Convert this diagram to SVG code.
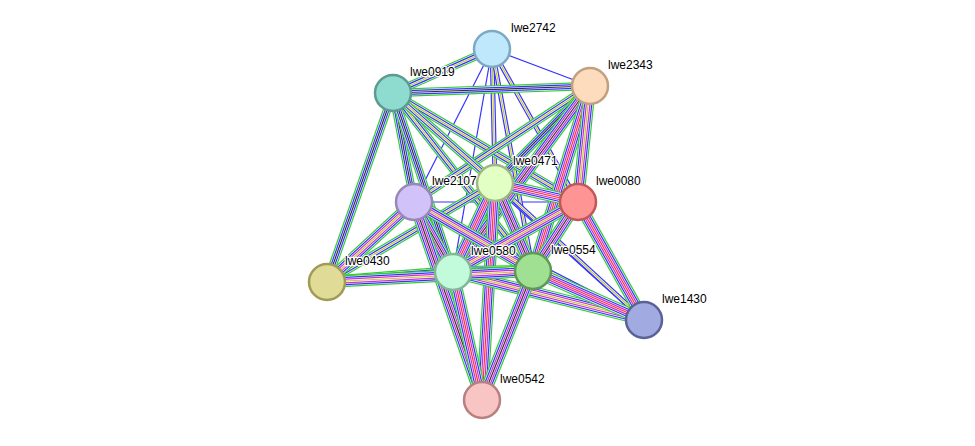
<svg xmlns="http://www.w3.org/2000/svg" xmlns:xlink="http://www.w3.org/1999/xlink" width="975" height="446" viewBox="0 0 975 446">
<style>
use,path{fill:none}
.g12{stroke:#33cc33;stroke-width:12}
.w96{stroke:#fff;stroke-width:9.6}
.b84{stroke:#3333ff;stroke-width:8.4}
.g84{stroke:#33cc33;stroke-width:8.4}
.w6{stroke:#fff;stroke-width:6}
.m48{stroke:#cc33cc;stroke-width:4.8}
.b48{stroke:#3333ff;stroke-width:4.8}
.w24{stroke:#fff;stroke-width:2.4}
.k12{stroke:#333;stroke-width:1.2}
.y12{stroke:#c8c832;stroke-width:1.2}
.b12{stroke:#3333ff;stroke-width:1.2}
.r12{stroke:#ff3333;stroke-width:1.2}
circle{stroke-width:2.5}
text{font-family:"Liberation Sans",Arial,sans-serif;font-size:12px;fill:#000;stroke:#fff;stroke-width:2.5;paint-order:stroke;stroke-linejoin:round}
</style>
<defs>
<path id="ac" d="M492,49L590,86"/><path id="ae" d="M492,49L414,202"/><path id="ah" d="M492,49L453,272"/><path id="ef" d="M414,202L578,202"/>
<path id="af" d="M492,49L578,202"/><path id="ad" d="M492,49L495,183"/><path id="ai" d="M492,49L533,271"/>
<path id="ab" d="M492,49L393,93"/><path id="bi" d="M393,93L533,271"/><path id="bf" d="M393,93L578,202"/><path id="ce" d="M590,86L414,202"/><path id="dg" d="M495,183L327,282"/><path id="bd" d="M393,93L495,183"/>
<path id="bc" d="M393,93L590,86"/><path id="bg" d="M393,93L327,282"/><path id="be" d="M393,93L414,202"/><path id="bh" d="M393,93L453,272"/><path id="cd" d="M590,86L495,183"/>
<path id="bj" d="M393,93L644,320"/><path id="dj" d="M495,183L644,320"/><path id="ej" d="M414,202L644,320"/>
<path id="ch" d="M590,86L453,272"/><path id="ci" d="M590,86L533,271"/><path id="cf" d="M590,86L578,202"/><path id="dh" d="M495,183L453,272"/><path id="di" d="M495,183L533,271"/><path id="df" d="M495,183L578,202"/><path id="dk" d="M495,183L482,400"/><path id="eh" d="M414,202L453,272"/><path id="ei" d="M414,202L533,271"/><path id="eg" d="M414,202L327,282"/><path id="ek" d="M414,202L482,400"/><path id="fh" d="M578,202L453,272"/><path id="fi" d="M578,202L533,271"/><path id="fj" d="M578,202L644,320"/><path id="hi" d="M453,272L533,271"/><path id="hg" d="M453,272L327,282"/><path id="hk" d="M453,272L482,400"/><path id="hj" d="M453,272L644,320"/><path id="ik" d="M533,271L482,400"/><path id="ij" d="M533,271L644,320"/><path id="ig" d="M533,271L327,282"/>
</defs>
<g id="connectors">
<use href="#ac" class="b12"/><use href="#ae" class="b12"/><use href="#ah" class="b12"/><use href="#ef" class="b12"/>
<use href="#af" class="b48"/><use href="#af" class="w24"/><use href="#af" class="y12"/>
<use href="#ad" class="b48"/><use href="#ad" class="w24"/><use href="#ad" class="y12"/>
<use href="#ai" class="b48"/><use href="#ai" class="w24"/><use href="#ai" class="y12"/>
<use href="#bj" class="b48"/><use href="#bj" class="w24"/><use href="#bj" class="y12"/>
<use href="#dj" class="b48"/><use href="#dj" class="w24"/><use href="#dj" class="y12"/>
<use href="#ej" class="b48"/><use href="#ej" class="w24"/><use href="#ej" class="y12"/>
<use href="#ab" class="g84"/><use href="#ab" class="w6"/><use href="#ab" class="b48"/><use href="#ab" class="w24"/><use href="#ab" class="y12"/>
<use href="#bi" class="g84"/><use href="#bi" class="w6"/><use href="#bi" class="b48"/><use href="#bi" class="w24"/><use href="#bi" class="y12"/>
<use href="#bf" class="g84"/><use href="#bf" class="w6"/><use href="#bf" class="b48"/><use href="#bf" class="w24"/><use href="#bf" class="y12"/>
<use href="#ce" class="g84"/><use href="#ce" class="w6"/><use href="#ce" class="b48"/><use href="#ce" class="w24"/><use href="#ce" class="y12"/>
<use href="#dg" class="g84"/><use href="#dg" class="w6"/><use href="#dg" class="b48"/><use href="#dg" class="w24"/><use href="#dg" class="y12"/>
<use href="#bd" class="g84"/><use href="#bd" class="w6"/><use href="#bd" class="b48"/><use href="#bd" class="w24"/><use href="#bd" class="y12"/>
<use href="#bc" class="g84"/><use href="#bc" class="w6"/><use href="#bc" class="b48"/><use href="#bc" class="w24"/><use href="#bc" class="k12"/>
<use href="#bg" class="g84"/><use href="#bg" class="w6"/><use href="#bg" class="b48"/><use href="#bg" class="w24"/><use href="#bg" class="k12"/>
<use href="#be" class="g84"/><use href="#be" class="w6"/><use href="#be" class="b48"/><use href="#be" class="w24"/><use href="#be" class="k12"/>
<use href="#bh" class="g84"/><use href="#bh" class="w6"/><use href="#bh" class="b48"/><use href="#bh" class="w24"/><use href="#bh" class="k12"/>
<use href="#cd" class="g84"/><use href="#cd" class="w6"/><use href="#cd" class="b48"/><use href="#cd" class="w24"/><use href="#cd" class="k12"/>
<g id="full">
<use href="#ch" class="g12"/><use href="#ch" class="w96"/><use href="#ch" class="b84"/><use href="#ch" class="w6"/><use href="#ch" class="m48"/><use href="#ch" class="w24"/><use href="#ch" class="k12"/>
<use href="#ci" class="g12"/><use href="#ci" class="w96"/><use href="#ci" class="b84"/><use href="#ci" class="w6"/><use href="#ci" class="m48"/><use href="#ci" class="w24"/><use href="#ci" class="r12"/>
<use href="#cf" class="g12"/><use href="#cf" class="w96"/><use href="#cf" class="b84"/><use href="#cf" class="w6"/><use href="#cf" class="m48"/><use href="#cf" class="w24"/><use href="#cf" class="y12"/>
<use href="#dh" class="g12"/><use href="#dh" class="w96"/><use href="#dh" class="b84"/><use href="#dh" class="w6"/><use href="#dh" class="m48"/><use href="#dh" class="w24"/><use href="#dh" class="r12"/>
<use href="#di" class="g12"/><use href="#di" class="w96"/><use href="#di" class="b84"/><use href="#di" class="w6"/><use href="#di" class="m48"/><use href="#di" class="w24"/><use href="#di" class="k12"/>
<use href="#df" class="g12"/><use href="#df" class="w96"/><use href="#df" class="b84"/><use href="#df" class="w6"/><use href="#df" class="m48"/><use href="#df" class="w24"/><use href="#df" class="r12"/>
<use href="#dk" class="g12"/><use href="#dk" class="w96"/><use href="#dk" class="b84"/><use href="#dk" class="w6"/><use href="#dk" class="m48"/><use href="#dk" class="w24"/><use href="#dk" class="r12"/>
<use href="#eh" class="g12"/><use href="#eh" class="w96"/><use href="#eh" class="b84"/><use href="#eh" class="w6"/><use href="#eh" class="m48"/><use href="#eh" class="w24"/><use href="#eh" class="k12"/>
<use href="#ei" class="g12"/><use href="#ei" class="w96"/><use href="#ei" class="b84"/><use href="#ei" class="w6"/><use href="#ei" class="m48"/><use href="#ei" class="w24"/><use href="#ei" class="y12"/>
<use href="#eg" class="g12"/><use href="#eg" class="w96"/><use href="#eg" class="b84"/><use href="#eg" class="w6"/><use href="#eg" class="m48"/><use href="#eg" class="w24"/><use href="#eg" class="y12"/>
<use href="#ek" class="g12"/><use href="#ek" class="w96"/><use href="#ek" class="b84"/><use href="#ek" class="w6"/><use href="#ek" class="m48"/><use href="#ek" class="w24"/><use href="#ek" class="k12"/>
<use href="#fh" class="g12"/><use href="#fh" class="w96"/><use href="#fh" class="b84"/><use href="#fh" class="w6"/><use href="#fh" class="m48"/><use href="#fh" class="w24"/><use href="#fh" class="y12"/>
<use href="#fi" class="g12"/><use href="#fi" class="w96"/><use href="#fi" class="b84"/><use href="#fi" class="w6"/><use href="#fi" class="m48"/><use href="#fi" class="w24"/><use href="#fi" class="k12"/>
<use href="#fj" class="g12"/><use href="#fj" class="w96"/><use href="#fj" class="b84"/><use href="#fj" class="w6"/><use href="#fj" class="m48"/><use href="#fj" class="w24"/><use href="#fj" class="r12"/>
<use href="#hi" class="g12"/><use href="#hi" class="w96"/><use href="#hi" class="b84"/><use href="#hi" class="w6"/><use href="#hi" class="m48"/><use href="#hi" class="w24"/><use href="#hi" class="b12"/>
<use href="#hg" class="g12"/><use href="#hg" class="w96"/><use href="#hg" class="b84"/><use href="#hg" class="w6"/><use href="#hg" class="m48"/><use href="#hg" class="w24"/><use href="#hg" class="y12"/>
<use href="#hk" class="g12"/><use href="#hk" class="w96"/><use href="#hk" class="b84"/><use href="#hk" class="w6"/><use href="#hk" class="m48"/><use href="#hk" class="w24"/><use href="#hk" class="r12"/>
<use href="#hj" class="g12"/><use href="#hj" class="w96"/><use href="#hj" class="b84"/><use href="#hj" class="w6"/><use href="#hj" class="m48"/><use href="#hj" class="w24"/><use href="#hj" class="y12"/>
<use href="#ik" class="g12"/><use href="#ik" class="w96"/><use href="#ik" class="b84"/><use href="#ik" class="w6"/><use href="#ik" class="m48"/><use href="#ik" class="w24"/><use href="#ik" class="k12"/>
<use href="#ij" class="g12"/><use href="#ij" class="w96"/><use href="#ij" class="b84"/><use href="#ij" class="w6"/><use href="#ij" class="m48"/><use href="#ij" class="w24"/><use href="#ij" class="r12"/>
<use href="#ig" class="g12"/><use href="#ig" class="w96"/><use href="#ig" class="b84"/><use href="#ig" class="w6"/><use href="#ig" class="m48"/><use href="#ig" class="w24"/><use href="#ig" class="y12"/>
</g>
</g>
<g id="lwe2742"><circle cx="492" cy="49" r="18" fill="#c0e8fc" stroke="#7ea9c4"/><text x="511" y="32">lwe2742</text></g>
<g id="lwe0919"><circle cx="393" cy="93" r="18" fill="#8edbd0" stroke="#5e9a90"/><text x="410" y="76">lwe0919</text></g>
<g id="lwe2343"><circle cx="590" cy="86" r="18" fill="#fddcbe" stroke="#c0a080"/><text x="608" y="69">lwe2343</text></g>
<g id="lwe0471"><circle cx="495" cy="183" r="18" fill="#e2ffc4" stroke="#a0b888"/><text x="513" y="165">lwe0471</text></g>
<g id="lwe2107"><circle cx="414" cy="202" r="18" fill="#d2c2fa" stroke="#9888b8"/><text x="432" y="185">lwe2107</text></g>
<g id="lwe0080"><circle cx="578" cy="202" r="18" fill="#ff9494" stroke="#c05858"/><text x="596" y="185">lwe0080</text></g>
<g id="lwe0430"><circle cx="327" cy="282" r="18" fill="#e0dc98" stroke="#a09c58"/><text x="345" y="265">lwe0430</text></g>
<g id="lwe0580"><circle cx="453" cy="272" r="18" fill="#c2fadc" stroke="#80b898"/><text x="471" y="255">lwe0580</text></g>
<g id="lwe0554"><circle cx="533" cy="271" r="18" fill="#a0e092" stroke="#609858"/><text x="551" y="254">lwe0554</text></g>
<g id="lwe1430"><circle cx="644" cy="320" r="18" fill="#a2aae2" stroke="#5a629a"/><text x="662" y="303">lwe1430</text></g>
<g id="lwe0542"><circle cx="482" cy="400" r="18" fill="#f8c4c4" stroke="#b88080"/><text x="500" y="383">lwe0542</text></g>
</svg>
